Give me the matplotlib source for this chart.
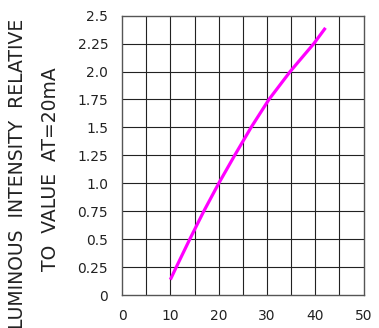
import matplotlib
matplotlib.use("Agg")
import matplotlib.pyplot as plt
import numpy as np

# current (mA) vs relative luminous intensity
current = [10, 11.2, 14.0, 16.9, 20.0, 23.3, 26.7, 30.4, 34.8, 39.7, 42.1]
intensity = [0.14, 0.25, 0.5, 0.75, 1.0, 1.25, 1.5, 1.75, 2.0, 2.25, 2.39]

xticks = [0, 10, 20, 30, 40, 50]
yticks = [0, 0.25, 0.5, 0.75, 1.0, 1.25, 1.5, 1.75, 2.0, 2.25, 2.5]
ylabels = ['0', '0.25', '0.5', '0.75', '1.0', '1.25', '1.5', '1.75', '2.0', '2.25', '2.5']

fig = plt.figure(figsize=(3.79, 3.28), dpi=100)
ax = fig.add_axes([0.322, 0.0996, 0.6375, 0.853])

# grid every 5 mA and every 0.25
for gx in np.arange(5, 50, 5):
    ax.axvline(gx, color='#222222', lw=0.8, zorder=1)
for gy in np.arange(0.25, 2.5, 0.25):
    ax.axhline(gy, color='#222222', lw=0.8, zorder=1)

ax.plot(current, intensity, color='#ff00ff', lw=2.3, zorder=3,
        solid_capstyle='butt', solid_joinstyle='round')

ax.set_xlim(0, 50)
ax.set_ylim(0, 2.5)
ax.set_xticks(xticks)
ax.set_xticklabels([str(t) for t in xticks])
ax.set_yticks(yticks)
ax.set_yticklabels(ylabels)
ax.tick_params(length=0, labelsize=10, colors='#222222')
ax.tick_params(axis='x', pad=10)
ax.tick_params(axis='y', pad=10)
for s in ax.spines.values():
    s.set_color('#555555')
    s.set_linewidth(1.0)

fig.text(0.047, 0.47, 'LUMINOUS  INTENSITY  RELATIVE', rotation=90,
         ha='center', va='center', fontsize=13.5, color='#222222')
fig.text(0.132, 0.485, 'TO  VALUE  AT=20mA', rotation=90,
         ha='center', va='center', fontsize=13.5, color='#222222')

fig.savefig('out.png', dpi=100)
